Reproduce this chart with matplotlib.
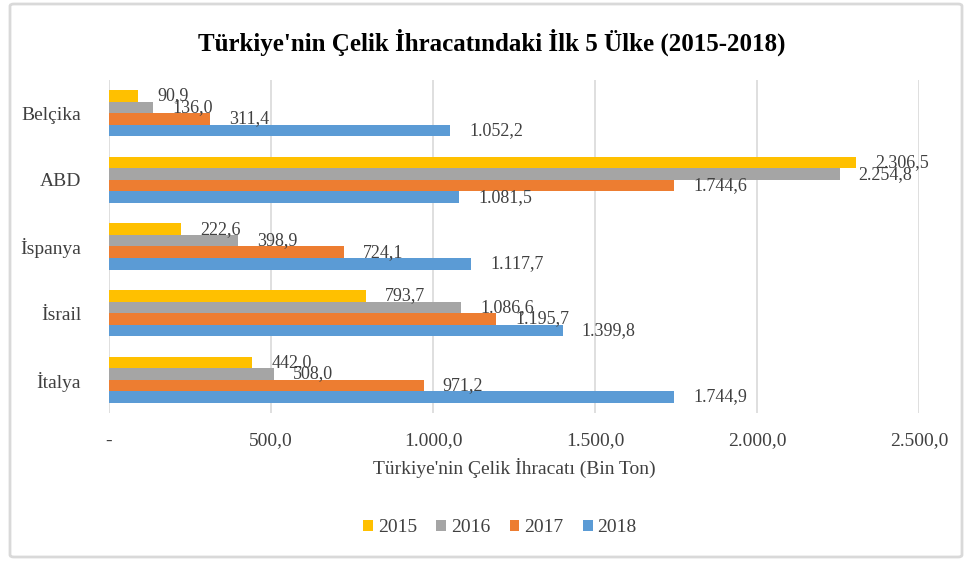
import matplotlib
matplotlib.use("Agg")
import matplotlib.pyplot as plt
from matplotlib.patches import FancyBboxPatch, Patch
import numpy as np

plt.rcParams['font.family'] = ['Liberation Serif', 'DejaVu Serif']

countries = ["İtalya", "İsrail", "İspanya", "ABD", "Belçika"]
years = ["2015", "2016", "2017", "2018"]
v2015 = [442.0, 793.7, 222.6, 2306.5, 90.9]
v2016 = [508.0, 1086.6, 398.9, 2254.8, 136.0]
v2017 = [971.2, 1195.7, 724.1, 1744.6, 311.4]
v2018 = [1744.9, 1399.8, 1117.7, 1081.5, 1052.2]
series = [v2015, v2016, v2017, v2018]
colors = ["#FFC000", "#A5A5A5", "#ED7D31", "#5B9BD5"]
xticks = [0, 500, 1000, 1500, 2000, 2500]
xticklabels = ["-", "500,0", "1.000,0", "1.500,0", "2.000,0", "2.500,0"]


def fmt(v):
    s = f"{v:,.1f}"
    return s.replace(",", "X").replace(".", ",").replace("X", ".")


W, H = 973, 562
fig = plt.figure(figsize=(W / 100, H / 100), dpi=100)
fig.patches.append(FancyBboxPatch((10 / W, 5 / H), 952 / W, 553 / H,
                                  boxstyle="round,pad=0,rounding_size=0.004",
                                  transform=fig.transFigure, fill=False,
                                  edgecolor="#D9D9D9", linewidth=2))

ax = fig.add_axes([109 / W, 1 - 413 / H, 810 / W, 333 / H])
y = np.arange(len(countries))
h = 0.173
offsets = [1.5 * h, 0.5 * h, -0.5 * h, -1.5 * h]
for vals, col, off, yr in zip(series, colors, offsets, years):
    bars = ax.barh(y + off, vals, height=h, color=col, label=yr, zorder=3)
    for yy, v in zip(y + off, vals):
        ax.annotate(fmt(v), xy=(v, yy), xytext=(19, 0), textcoords="offset pixels",
                    ha="left", va="center", fontsize=13, color="#404040",
                    annotation_clip=False, zorder=4)

ax.set_xlim(0, 2500)
ax.set_ylim(-0.5, len(countries) - 0.5)
ax.set_yticks(y)
ax.set_yticklabels(countries, fontsize=14, color="#404040")
ax.set_xticks(xticks)
ax.set_xticklabels(xticklabels, fontsize=14, color="#404040")
ax.tick_params(axis="both", length=0)
ax.tick_params(axis="y", pad=20)
ax.tick_params(axis="x", pad=14)
ax.xaxis.grid(True, color="#D9D9D9", linewidth=1.2, zorder=0)
ax.yaxis.grid(False)
for s in ax.spines.values():
    s.set_visible(False)
ax.set_xlabel("Türkiye'nin Çelik İhracatı (Bin Ton)", fontsize=14, color="#404040", labelpad=6)

fig.text(492 / W, 1 - 42 / H, "Türkiye'nin Çelik İhracatındaki İlk 5 Ülke (2015-2018)",
         ha="center", va="center", fontsize=18, fontweight="bold", color="#000000")

handles = [Patch(facecolor=c, edgecolor="none") for c in colors]
fig.legend(handles, years, loc="center", bbox_to_anchor=(500 / W, 1 - 528 / H),
           ncol=4, frameon=False, fontsize=14, handlelength=0.5, handleheight=0.5,
           handletextpad=0.25, columnspacing=1.0, labelcolor="#404040")

fig.savefig("out.png", dpi=100)
